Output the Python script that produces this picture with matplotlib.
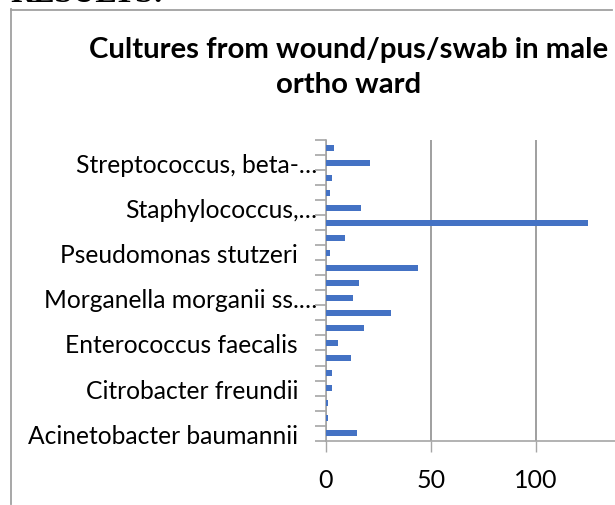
import matplotlib
matplotlib.use("Agg")
import matplotlib.pyplot as plt
from matplotlib.lines import Line2D
import numpy as np

# Categories bottom -> top (only every third label is shown in the chart)
categories = [
    "Acinetobacter baumannii", "Acinetobacter lwoffii", "Burkholderia cepacia",
    "Citrobacter freundii", "Citrobacter koseri", "Enterobacter cloacae",
    "Enterococcus faecalis", "Escherichia coli", "Klebsiella pneumoniae",
    "Morganella morganii ss.…", "Proteus mirabilis", "Pseudomonas aeruginosa",
    "Pseudomonas stutzeri", "Serratia marcescens", "Staphylococcus aureus",
    "Staphylococcus,…", "Stenotrophomonas maltophilia", "Streptococcus agalactiae",
    "Streptococcus, beta-…", "Streptococcus pyogenes",
]
counts = [15, 1, 1, 3, 3, 12, 6, 18, 31, 13, 16, 44, 2, 9, 125, 17, 2, 3, 21, 4]
x_ticks = [0, 50, 100, 150]

title_lines = ["Cultures from wound/pus/swab in male", "ortho ward"]

W, H, DPI = 615, 506, 100
fig = plt.figure(figsize=(W / DPI, H / DPI), dpi=DPI)
fig.patch.set_facecolor("white")

# axes placement (pixels)
x0_px, y_top_px, y_bot_px = 325.7, 141.0, 441.7
px_per_unit = 2.1
ax = fig.add_axes([x0_px / W, 1 - y_bot_px / H,
                   (x_ticks[-1] * px_per_unit) / W, (y_bot_px - y_top_px) / H])

pos = np.arange(len(categories))
ax.barh(pos, counts, height=0.4, color="#4472C4", zorder=3)
ax.set_xlim(0, x_ticks[-1])
ax.set_ylim(-0.5, len(categories) - 0.5)

grid_c = "#8f8f8f"
axis_c = "#a6a6a6"
ax.set_xticks(x_ticks)
# last tick label lies outside the visible (cropped) area
ax.set_xticklabels([str(v) if v < x_ticks[-1] else "" for v in x_ticks])
ax.xaxis.grid(True, color=grid_c, linewidth=1.2, zorder=0)
ax.tick_params(axis="x", length=8, width=1.0, color=axis_c, pad=12,
               labelsize=18, labelcolor="black")

# y ticks: boundaries as minor ticks, labels every third category
shown = list(range(0, len(categories), 3))
ax.set_yticks(pos[shown])
ax.set_yticklabels([categories[i] for i in shown])
ax.set_yticks(np.arange(-0.5, len(categories), 1.0), minor=True)
ax.tick_params(axis="y", which="major", length=0, labelsize=17.75, labelcolor="black")
ax.tick_params(axis="y", which="minor", length=8, width=1.2, color=axis_c)
for tick, i in zip(ax.yaxis.get_major_ticks(), shown):
    if categories[i].endswith("…"):
        tick.set_pad(6)
    else:
        tick.set_pad(20)

for lbl in ax.get_yticklabels() + ax.get_xticklabels():
    lbl.set_family("Lato")

for s in ["top", "right"]:
    ax.spines[s].set_visible(False)
ax.spines["left"].set_color(axis_c)
ax.spines["left"].set_linewidth(1.2)
ax.spines["bottom"].set_color(axis_c)
ax.spines["bottom"].set_linewidth(1.2)
ax.spines["bottom"].set_zorder(4)

# chart border (cropped)
bc = "#a0a0a0"
fig.add_artist(Line2D([10.5 / W, 10.5 / W], [1 - 10 / H, 1 / H],
                      transform=fig.transFigure, color=bc, linewidth=1.3))
fig.add_artist(Line2D([10.5 / W, 612 / W], [1 - 10.5 / H, 1 - 10.5 / H],
                      transform=fig.transFigure, color=bc, linewidth=1.3))

# title (two centred lines)
for line, base_px in zip(title_lines, [57.7, 93.3]):
    fig.text(349 / W, 1 - base_px / H, line, ha="center", va="baseline",
             fontsize=21.2, fontweight="bold", family="Lato")

# cropped heading above the chart
fig.text(10 / W, 1 - 2.5 / H, "RESULTS:", ha="left", va="baseline",
         fontsize=23, fontweight="bold", family="Liberation Serif")

fig.savefig("out.png", dpi=DPI)
